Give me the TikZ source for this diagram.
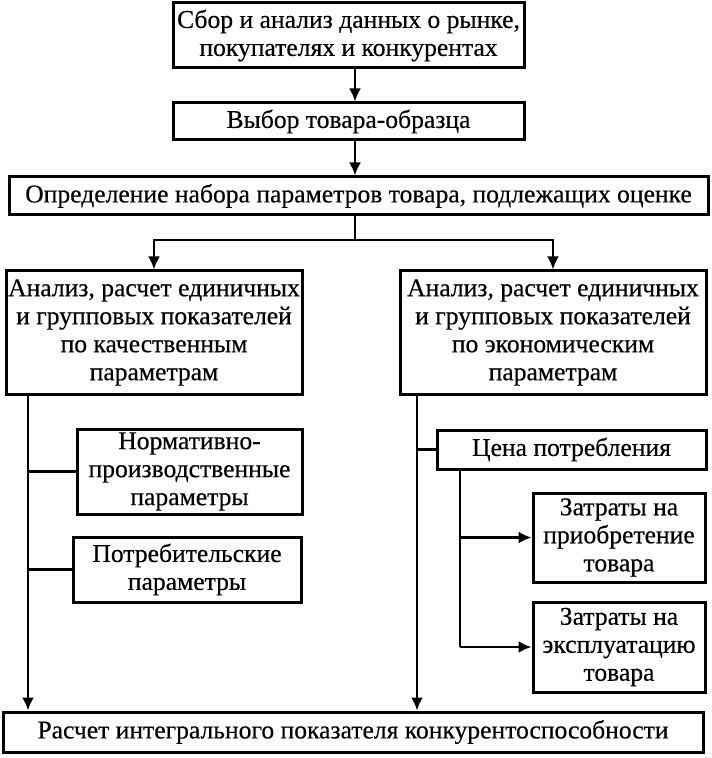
\documentclass[tikz,border=0pt]{standalone}
\usepackage{fontspec}
\setmainfont{Liberation Serif}[FakeBold=0.4]
\usetikzlibrary{arrows.meta}
\begin{document}
\begin{tikzpicture}[x=0.5pt,y=-0.5pt,>={Latex[length=6.5pt,width=6pt]},
    blk/.style 2 args={draw,line width=1.5pt,align=center,inner sep=0pt,minimum width=#1*0.5pt,minimum height=#2*0.5pt,font=\fontsize{12.8}{14}\selectfont},
    conn/.style={line width=1.2pt}]
    \useasboundingbox (0,0) rectangle (711,758);
    \node[blk={351}{65}] (sbor) at (348.5,35.5) {Сбор и анализ данных о рынке,\\покупателях и конкурентах};
    \node[blk={351}{37}] (vybor) at (348.5,121.5) {Выбор товара-образца};
    \node[blk={699}{38}] (nabor) at (358.5,196) {Определение набора параметров товара, подлежащих оценке};
    \node[blk={296}{123}] (kach) at (154,332.5) {Анализ, расчет единичных\\и групповых показателей\\по качественным\\параметрам};
    \node[blk={306}{123}] (ekon) at (553,332.5) {Анализ, расчет единичных\\и групповых показателей\\по экономическим\\параметрам};
    \node[blk={225}{85}] (norm) at (189.5,471.5) {Нормативно-\\производственные\\параметры};
    \node[blk={228}{65}] (potr) at (187,569.5) {Потребительские\\параметры};
    \node[blk={269}{39}] (cena) at (571.5,449.5) {Цена потребления};
    \node[blk={172}{89}] (zatr1) at (619,537.5) {Затраты на\\приобретение\\товара};
    \node[blk={172}{90}] (zatr2) at (619,647) {Затраты на\\эксплуатацию\\товара};
    \node[blk={700}{40}] (itog) at (353,732) {Расчет интегрального показателя конкурентоспособности};
    \coordinate (split) at (355,240);
    \coordinate (lx) at (28,0);
    \coordinate (rx) at (417,0);
    \coordinate (ix) at (460,0);
    \draw[conn,->] (sbor.south -| split) -- (vybor.north -| split);
    \draw[conn,->] (vybor.south -| split) -- (nabor.north -| split);
    \draw[conn] (nabor.south -| split) -- (split);
    \draw[conn,->] (split) -| (kach);
    \draw[conn,->] (split) -| (ekon);
    \draw[conn,->] (kach.south -| lx) -- (itog.north -| lx);
    \draw[conn] (norm.west) -- (norm.west -| lx);
    \draw[conn] (potr.west) -- (potr.west -| lx);
    \draw[conn,->] (ekon.south -| rx) -- (itog.north -| rx);
    \draw[conn] (cena.west) -- (cena.west -| rx);
    \draw[conn] (cena.south -| ix) -- (zatr2.west -| ix);
    \draw[conn,->] (zatr1.west -| ix) -- (zatr1);
    \draw[conn,->] (zatr2.west -| ix) -- (zatr2);
\end{tikzpicture}
\end{document}
